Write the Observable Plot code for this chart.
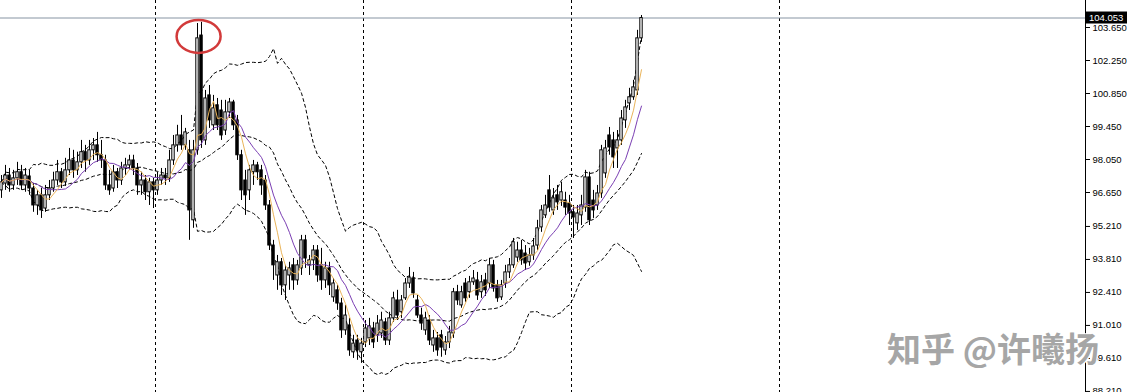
<!DOCTYPE html>
<html><head><meta charset="utf-8">
<script src="https://cdn.jsdelivr.net/npm/d3@7"></script>
<script src="https://cdn.jsdelivr.net/npm/@observablehq/plot@0.6"></script>
<style>
body{margin:0;background:#fff}
#wrap{position:relative;width:1128px;height:392px;overflow:hidden}
#wm{position:absolute;left:887px;top:326px;font-family:"Noto Sans CJK SC";font-weight:700;font-size:34px;line-height:44px;color:#a6a6a6;text-shadow:1px 1px 0 #fff,-1px -1px 0 #fff;white-space:nowrap}
</style>
</head><body><div id="wrap"></div>
<script>
const open = [
96.74,97.03,97.37,96.95,97.25,97.51,96.95,97.33,96.82,96.10,
96.53,95.97,96.53,96.82,97.16,97.51,97.08,97.59,98.01,97.59,
97.93,98.36,98.01,98.44,98.65,98.23,98.01,96.95,96.82,97.51,
97.16,97.67,97.80,98.01,97.67,96.95,97.16,96.66,97.08,96.74,
97.16,97.37,97.25,98.01,98.65,99.07,98.65,98.44,95.47,98.44,
103.31,98.86,100.77,99.50,100.35,100.13,99.28,100.05,100.47,99.71,
98.23,97.16,96.74,97.51,97.80,97.59,97.16,96.10,94.40,93.13,
93.69,92.71,93.13,93.56,92.92,93.43,94.62,93.56,93.77,94.19,
93.56,92.92,93.43,92.20,92.50,91.94,90.80,91.01,89.87,90.37,
89.87,90.29,90.46,90.88,90.59,90.67,91.14,90.37,91.31,92.07,
91.57,92.16,92.79,93.00,92.07,91.43,90.80,91.22,90.16,90.46,
90.59,89.95,90.29,90.67,92.42,91.86,92.79,92.42,92.84,92.92,
92.42,92.92,92.79,93.56,92.71,92.20,92.79,93.26,93.56,93.89,
94.19,94.06,93.69,93.98,94.40,95.17,95.68,96.74,95.89,96.53,
96.31,96.31,96.18,95.81,95.34,95.68,96.01,97.29,96.31,96.10,
96.61,97.46,99.07,98.86,98.52,98.86,99.71,100.43,100.69,100.98,
103.19];
const high = [
97.37,97.80,97.67,97.59,97.93,97.80,97.67,97.59,97.03,96.74,
96.82,96.95,97.16,97.51,98.01,97.67,98.10,98.52,98.44,98.36,
98.86,98.65,98.86,98.94,99.20,98.86,98.23,97.59,97.80,97.67,
97.93,98.10,98.23,98.23,97.88,97.51,97.37,97.25,97.25,97.51,
97.67,97.67,98.44,99.07,99.50,99.92,99.37,98.86,98.86,103.82,
103.87,100.98,101.19,100.77,100.64,100.56,100.56,100.64,100.56,99.92,
98.44,97.59,97.80,98.01,97.93,97.80,97.37,96.31,94.62,93.98,
93.85,93.56,93.69,93.85,93.77,94.83,94.83,93.98,94.40,94.40,
94.28,93.69,93.69,93.00,92.71,92.16,91.86,91.31,90.59,90.59,
90.46,91.22,91.31,91.14,91.43,91.57,91.31,91.57,92.42,92.50,
92.28,93.00,93.47,93.26,92.28,91.74,91.57,91.43,90.80,90.71,
90.80,90.54,90.97,92.58,92.71,92.67,93.00,93.09,93.34,93.26,
93.13,93.22,93.85,93.77,92.92,92.92,93.56,93.85,94.70,94.54,
94.62,94.40,94.28,94.70,95.47,96.10,96.53,97.37,96.82,96.95,
97.08,96.66,96.53,96.10,96.10,96.53,97.59,97.51,96.74,96.95,
98.65,98.86,99.41,99.20,99.28,100.13,100.56,101.07,101.41,103.53,
104.16];
const low = [
96.40,96.74,96.66,96.74,96.95,96.74,96.66,96.53,95.81,95.68,
95.55,95.81,96.31,96.66,96.95,96.82,96.91,97.37,97.25,97.37,
97.67,97.51,97.80,98.01,97.93,97.67,96.74,96.53,96.66,96.82,
96.95,97.37,97.59,97.37,96.53,96.53,96.31,96.10,95.97,96.53,
96.95,96.95,97.08,97.80,98.36,98.44,98.44,94.62,95.13,98.23,
98.52,98.65,99.37,99.28,99.28,98.86,99.07,99.79,99.28,98.01,
96.31,95.68,96.31,96.95,97.16,96.53,95.89,94.19,92.92,92.50,
92.28,92.07,92.50,92.50,92.71,93.13,93.43,93.13,93.34,92.84,
92.50,92.58,92.28,91.99,91.65,90.46,90.59,89.70,89.61,89.53,
89.40,90.07,90.16,90.03,90.29,90.46,90.16,90.16,91.14,91.22,
91.31,92.07,92.58,92.16,91.31,90.80,90.59,90.16,89.87,89.70,
89.66,89.74,90.03,90.46,91.86,91.74,91.99,92.16,92.71,92.07,
92.16,92.24,92.58,92.42,91.99,92.07,92.58,93.00,93.43,93.69,
93.56,93.34,93.52,93.77,94.19,94.96,95.55,95.81,95.68,95.89,
96.06,95.68,95.25,94.70,95.04,95.25,95.81,95.25,95.55,95.89,
96.40,97.25,98.23,97.67,97.67,98.65,99.37,100.13,100.56,100.77,
103.02];
const close = [
97.08,97.37,96.95,97.25,97.51,96.95,97.37,96.82,96.10,96.53,
95.89,96.53,96.82,97.16,97.51,97.08,97.59,98.01,97.59,97.93,
98.36,98.01,98.44,98.65,98.23,98.01,96.95,96.74,97.51,97.16,
97.67,97.80,98.01,97.67,96.95,97.16,96.66,97.08,96.74,97.16,
97.37,97.25,98.01,98.65,99.07,98.65,99.20,95.89,98.44,103.19,
98.86,100.64,99.71,100.22,99.50,99.07,100.05,100.47,99.50,98.23,
96.74,96.53,97.59,97.80,97.51,96.95,96.10,94.40,93.56,93.69,
92.71,93.34,93.43,92.92,93.56,94.62,93.85,93.77,94.19,93.13,
92.92,93.43,92.71,92.79,91.94,90.80,91.43,89.95,90.24,89.95,
90.24,90.88,90.97,90.29,91.09,91.22,90.37,91.31,92.16,91.43,
92.07,92.79,93.04,92.37,91.43,91.09,91.31,90.37,90.46,89.95,
90.07,90.29,90.71,92.42,92.07,92.42,92.16,92.84,93.00,92.28,
92.84,92.50,93.56,92.58,92.16,92.71,93.26,93.56,94.54,94.19,
93.77,93.64,93.98,94.36,95.13,95.89,96.10,96.01,96.40,96.23,
96.66,96.01,95.76,95.59,95.76,96.10,97.29,95.47,95.89,96.61,
98.44,98.52,98.56,98.14,98.86,99.79,100.26,100.69,101.11,103.19,
104.05];

const yTicks = [103.65,102.25,100.85,99.45,98.05,96.65,95.21,93.81,92.41,91.01,89.61,88.21];
const separators = [38.5, 90.5, 142.5, 194.5];   // bar positions of the vertical dashed lines
const lastPrice = 104.053;
const peakMark = {bar: 49.4, price: 103.25};      // red ellipse annotation
const maFast = 5, maSlow = 10, bbPeriod = 20, bbDev = 2;
const watermark = "知乎 @许曦扬";

const bars = close.map((c, i) => ({i, open: open[i], high: high[i], low: low[i], close: c}));

function sma(k) {
  return close.map((_, i) => {
    const w = close.slice(Math.max(0, i - k + 1), i + 1);
    return {i, v: d3.mean(w)};
  });
}
const fast = sma(maFast), slow = sma(maSlow);
const bb = close.map((_, i) => {
  const w = close.slice(Math.max(0, i - bbPeriod + 1), i + 1);
  const m = d3.mean(w);
  const sd = Math.sqrt(d3.mean(w, x => (x - m) ** 2));
  return {i, mid: m, up: m + bbDev * sd, lo: m - bbDev * sd};
});

const W = 1128, H = 392, MR = 43;
const xDomain = [-0.25, 271];
const pxPerUnit = 23.57;
const yDomain = [104.796 - H / pxPerUnit, 104.796];

const dash = "3,3";
const plot = Plot.plot({
  width: W, height: H,
  marginLeft: 0, marginRight: MR, marginTop: 0, marginBottom: 0,
  style: {background: "white", overflow: "visible"},
  x: {domain: xDomain, axis: null},
  y: {domain: yDomain, axis: null},
  marks: [
    Plot.ruleX(separators, {stroke: "black", strokeDasharray: dash, strokeWidth: 1}),
    Plot.ruleY([lastPrice], {stroke: "#8794a3", strokeWidth: 1}),
    Plot.line(bb, {x: "i", y: "up", stroke: "black", strokeDasharray: dash, strokeWidth: 1, clip: true}),
    Plot.line(bb, {x: "i", y: "mid", stroke: "black", strokeDasharray: dash, strokeWidth: 1, clip: true}),
    Plot.line(bb, {x: "i", y: "lo", stroke: "black", strokeDasharray: dash, strokeWidth: 1, clip: true}),
    Plot.ruleX(bars, {x: "i", y1: "low", y2: "high", stroke: "black", strokeWidth: 1}),
    Plot.rect(bars, {x1: d => d.i - 0.3, x2: d => d.i + 0.3, y1: "open", y2: "close",
      fill: d => d.close >= d.open ? "white" : "black", stroke: "black", strokeWidth: 1}),
    Plot.line(slow, {x: "i", y: "v", stroke: "#7b3fb3", strokeWidth: 1}),
    Plot.line(fast, {x: "i", y: "v", stroke: "#eab45a", strokeWidth: 1}),
    Plot.ruleX([xDomain[1]], {stroke: "black", strokeWidth: 1}),
    Plot.axisY({anchor: "right", ticks: yTicks, tickFormat: d3.format(".3f"), tickSize: 4, tickPadding: 3,
      fontSize: 9.5, fontFamily: "Liberation Sans, Arial, sans-serif", color: "black"})
  ]
});

const svg = d3.select(plot);
const sx = plot.scale("x"), sy = plot.scale("y");
// red ellipse annotation
svg.append("ellipse")
  .attr("cx", sx.apply(peakMark.bar)).attr("cy", sy.apply(peakMark.price))
  .attr("rx", 22).attr("ry", 16.5)
  .attr("fill", "none").attr("stroke", "#d23a3a").attr("stroke-width", 2.5);
// last price label
const yp = sy.apply(lastPrice);
const gx = W - MR + 1;
svg.append("rect").attr("x", gx).attr("y", yp - 6).attr("width", 41).attr("height", 12).attr("fill", "black");
svg.append("text").attr("x", gx + 3).attr("y", yp + 3.5).attr("fill", "white")
  .attr("text-anchor", "start")
  .attr("font-family", "Liberation Sans, Arial, sans-serif").attr("font-size", 9.5).text(d3.format(".3f")(lastPrice));

const wrap = document.getElementById("wrap");
wrap.appendChild(plot);
const wm = document.createElement("div");
wm.id = "wm"; wm.textContent = watermark;
wrap.appendChild(wm);
</script>
</body></html>
